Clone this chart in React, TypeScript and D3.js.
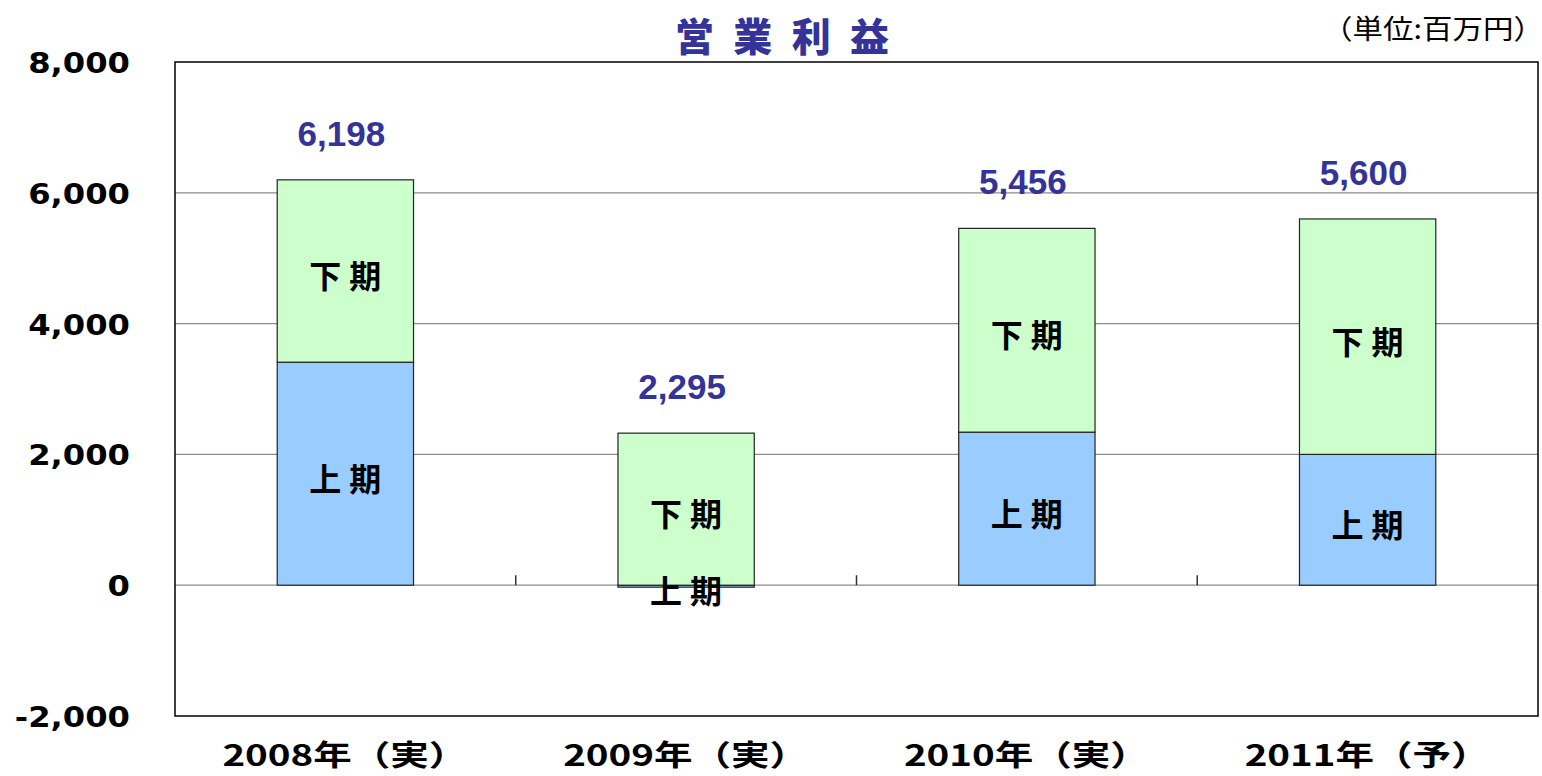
import React from 'react';
import * as d3 from 'd3';

// 営業利益 (単位:百万円)
const categories = ['2008年（実）', '2009年（実）', '2010年（実）', '2011年（予）'];
const firstHalf = [3410, -30, 2340, 2000]; // 上期
const secondHalf = [2788, 2325, 3116, 3600]; // 下期
const totals = [6198, 2295, 5456, 5600];
const yTicks = [-2000, 0, 2000, 4000, 6000, 8000];
const segmentNames = ['上期', '下期'];

const width = 1542;
const height = 776;
const plot = { left: 175, right: 1538, top: 62, bottom: 716 };

const cjk = '"Noto Sans CJK JP", "Noto Sans CJK SC", sans-serif';

export default function App() {
  const x = d3.scaleBand<string>()
    .domain(categories)
    .range([plot.left, plot.right])
    .paddingInner(0.6)
    .paddingOuter(0.3);

  const y = d3.scaleLinear()
    .domain([-2000, 8000])
    .range([plot.bottom, plot.top]);

  // plain hyphen instead of unicode minus
  const fmt = (v: number) => d3.format(',')(v).replace('\u2212', '-');

  // stacking: positives upward from 0, negatives downward from 0
  const segments = categories.flatMap((c, i) => {
    const vals = [firstHalf[i], secondHalf[i]];
    let pos = 0;
    let neg = 0;
    return vals.map((v, k) => {
      let y0: number, y1: number;
      if (v >= 0) { y0 = pos; y1 = pos + v; pos = y1; }
      else { y0 = neg; y1 = neg + v; neg = y1; }
      return { cat: c, k, y0, y1 };
    });
  });

  const boundaries = categories.slice(1).map(c => (x(c) as number) - x.step() * x.paddingInner() / 2);

  return (
    <svg width={width} height={height} style={{ position: 'absolute', left: 0, top: 0, background: '#fff' }}>
      {/* grid lines */}
      {yTicks.filter(t => t > -2000 && t < 8000).map(t => (
        <line key={`g${t}`} x1={plot.left} x2={plot.right} y1={y(t)} y2={y(t)} stroke="#8c8c8c" strokeWidth={1.3} />
      ))}

      {/* category ticks on zero line */}
      {boundaries.map((bx, i) => (
        <line key={`b${i}`} x1={bx} x2={bx} y1={y(0) - 10} y2={y(0)} stroke="#333" strokeWidth={1.5} />
      ))}

      {/* bars */}
      {segments.map((s, i) => (
        <rect
          key={`s${i}`}
          x={x(s.cat)}
          width={x.bandwidth()}
          y={y(Math.max(s.y0, s.y1))}
          height={Math.abs(y(s.y0) - y(s.y1))}
          fill={s.k === 0 ? '#99ccff' : '#ccffcc'}
          stroke="#222"
          strokeWidth={1.2}
        />
      ))}

      {/* segment labels */}
      {segments.map((s, i) => (
        <text
          key={`sl${i}`}
          x={(x(s.cat) as number) + x.bandwidth() / 2 + 4}
          y={y((s.y0 + s.y1) / 2) + 3}
          textAnchor="middle"
          dominantBaseline="central"
          fontFamily={cjk}
          fontWeight="bold"
          fontSize={32}
          letterSpacing={8}
          fill="#000"
        >
          {segmentNames[s.k]}
        </text>
      ))}

      {/* totals */}
      {categories.map((c, i) => (
        <text
          key={`t${i}`}
          x={(x(c) as number) + x.bandwidth() / 2 - 4}
          y={y(Math.max(totals[i], secondHalf[i] + Math.max(firstHalf[i], 0))) - 34}
          textAnchor="middle"
          fontFamily='"Liberation Sans", Arial, sans-serif'
          fontWeight="bold"
          fontSize={35}
          fill="#333399"
        >
          {fmt(totals[i])}
        </text>
      ))}

      {/* plot frame */}
      <rect x={plot.left} y={plot.top} width={plot.right - plot.left} height={plot.bottom - plot.top}
        fill="none" stroke="#000" strokeWidth={1.5} />

      {/* y tick labels */}
      {yTicks.map(t => (
        <text
          key={`yt${t}`}
          transform={`translate(130,${y(t) + 11}) scale(1.15,1)`}
          textAnchor="end"
          fontFamily='"DejaVu Sans", sans-serif'
          fontWeight="bold"
          fontSize={28}
          fill="#000"
        >
          {fmt(t)}
        </text>
      ))}

      {/* category labels */}
      {categories.map(c => (
        <text
          key={`c${c}`}
          x={(x(c) as number) + x.bandwidth() / 2 - 123}
          y={766}
          textLength={245}
          lengthAdjust="spacingAndGlyphs"
          fontFamily={cjk}
          fontWeight="bold"
          fontSize={29}
          fill="#000"
        >
          {c}
        </text>
      ))}

      {/* title */}
      <text x={675} y={51} textLength={214} lengthAdjust="spacing" fontFamily={cjk} fontWeight="900" fontSize={39} fill="#333399">
        営業利益
      </text>

      {/* unit */}
      <text x={1322} y={39} textLength={222} lengthAdjust="spacingAndGlyphs" fontFamily={cjk} fontSize={27} fill="#000">
        （単位:百万円）
      </text>
    </svg>
  );
}
